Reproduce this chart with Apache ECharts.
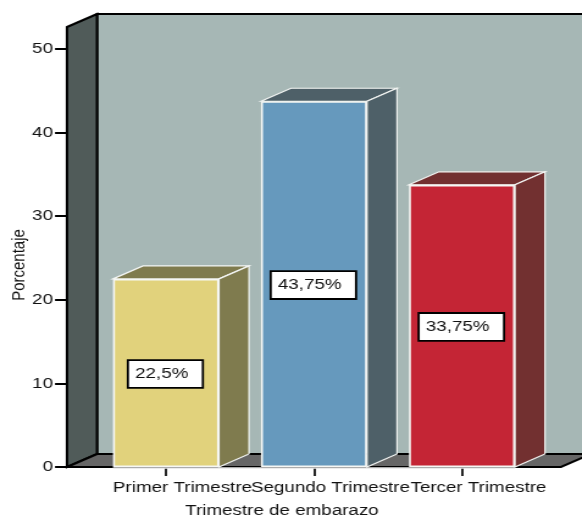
<!DOCTYPE html>
<html>
<head>
<meta charset="utf-8">
<style>
  html, body { margin: 0; padding: 0; background: #fff; overflow: hidden; }
  /* Text on this chart is set wide: the whole drawing is stretched along x. */
  #chart { width: 477px; height: 516px; transform: scaleX(1.22); transform-origin: 0 0; }
</style>
<script src="https://cdn.jsdelivr.net/npm/echarts@6/dist/echarts.min.js"></script>
</head>
<body>
<div id="chart"></div>
<script>
const categories = ['Primer Trimestre', 'Segundo Trimestre', 'Tercer Trimestre'];
const percentages = [22.5, 43.75, 33.75];
const valueLabels = ['22,5%', '43,75%', '33,75%'];
const frontColors = ['#E1D27C', '#6699BD', '#C42535'];
const shadeColors = ['#7F7B4E', '#4E6068', '#723030'];
const yTicks = [0, 10, 20, 30, 40, 50];

const SX = 1.22;               // horizontal stretch of the page
const X = v => v / SX;         // screen px along x -> chart px
const yMax = 52.63;
const depthX = X(30), depthY = -13;
const roomPad = X(25);         // room overhang either side of the category band
const barWidth = X(106);
const textColor = '#111';

const chart = echarts.init(document.getElementById('chart'));

// Walls and floor of the 3D box, placed from the grid and value scale
function renderRoom(params, api) {
  const cs = params.coordSys;
  const l = cs.x - roomPad, r = cs.x + cs.width + roomPad;
  const y0 = api.coord([0, 0])[1], yT = api.coord([0, yMax])[1];
  const line = { stroke: '#000', lineWidth: 2, lineJoin: 'miter' };
  const poly = (points, fill) => ({
    type: 'polygon', shape: { points },
    style: Object.assign({ fill }, line)
  });
  const firstLeft = api.coord([0, 0])[0] - barWidth / 2;
  const lastRight = api.coord([categories.length - 1, 0])[0] + barWidth / 2;
  return {
    type: 'group',
    children: [
      poly([[l + depthX, yT + depthY], [r + depthX, yT + depthY], [r + depthX, y0 + depthY], [l + depthX, y0 + depthY]], '#A6B7B5'),
      poly([[l, yT], [l + depthX, yT + depthY], [l + depthX, y0 + depthY], [l, y0]], '#505B59'),
      poly([[l, y0], [r, y0], [r + depthX, y0 + depthY], [l + depthX, y0 + depthY]], '#666666'),
      {
        type: 'line',
        shape: { x1: firstLeft, y1: y0 + 1, x2: lastRight, y2: y0 + 1 },
        style: { stroke: '#E6E6E6', lineWidth: 1.5 }
      }
    ]
  };
}

// Top and side faces of each column
function renderFaces(params, api) {
  const i = api.value(0);
  const top = api.coord([i, api.value(1)]);
  const base = api.coord([i, 0]);
  const a = top[0] - barWidth / 2, b = top[0] + barWidth / 2;
  const edge = { stroke: '#F4F6F4', lineWidth: 1.2, lineJoin: 'miter' };
  const face = (points) => ({
    type: 'polygon', shape: { points },
    style: Object.assign({ fill: shadeColors[i] }, edge)
  });
  return {
    type: 'group',
    children: [
      face([[a, top[1]], [a + depthX, top[1] + depthY], [b + depthX, top[1] + depthY], [b, top[1]]]),
      face([[b, top[1]], [b + depthX, top[1] + depthY], [b + depthX, base[1] + depthY], [b, base[1]]])
    ]
  };
}

chart.setOption({
  animation: false,
  grid: { left: X(92), right: X(46), top: 27, bottom: 49, outerBoundsMode: 'none' },
  xAxis: {
    type: 'category',
    data: categories,
    axisLine: { show: false },
    axisTick: { show: true, alignWithLabel: true, length: 9, lineStyle: { color: '#000', width: 1.7 } },
    axisLabel: { interval: 0, hideOverlap: false, color: textColor, fontFamily: 'Liberation Sans', fontSize: 15.4, margin: 13, padding: [0, 0, 0, X(33)] },
    name: 'Trimestre de embarazo',
    nameLocation: 'middle',
    nameGap: 36,
    nameMoveOverlap: false,
    nameTextStyle: { color: textColor, fontFamily: 'Liberation Sans', fontSize: 15.4, padding: [0, X(64), 0, 0] }
  },
  yAxis: {
    type: 'value',
    min: 0,
    max: yMax,
    offset: roomPad,
    splitLine: { show: false },
    axisLine: { show: false },
    axisTick: { show: true, customValues: yTicks, length: X(12), lineStyle: { color: '#000', width: 2 } },
    axisLabel: { customValues: yTicks, color: textColor, fontFamily: 'Liberation Sans', fontSize: 15.4, margin: X(14) },
    name: 'Porcentaje',
    nameLocation: 'middle',
    nameGap: 32,
    nameMoveOverlap: false,
    nameTextStyle: { color: textColor, fontFamily: 'Liberation Sans', fontSize: 15, padding: [0, 36, 0, 0] }
  },
  series: [
    {
      type: 'custom',
      z: 1,
      silent: true,
      clip: false,
      renderItem: renderRoom,
      data: [[0, 0]],
      encode: { x: 0, y: 1 }
    },
    {
      type: 'custom',
      z: 2,
      silent: true,
      clip: false,
      renderItem: renderFaces,
      data: percentages.map((v, i) => [i, v]),
      encode: { x: 0, y: 1 }
    },
    {
      type: 'bar',
      z: 3,
      barWidth: barWidth,
      data: percentages.map((v, i) => ({
        value: v,
        itemStyle: { color: frontColors[i], borderColor: '#F6F7F4', borderWidth: 1.6 }
      })),
      label: {
        show: true,
        position: 'inside',
        offset: [-0.5, 1],
        formatter: p => valueLabels[p.dataIndex],
        color: '#111',
        fontFamily: 'Liberation Sans',
        fontSize: 15.4,
        backgroundColor: '#fff',
        borderColor: '#000',
        borderWidth: 1.8,
        padding: [5.5, 11, 5.5, 5]
      }
    }
  ]
});
</script>
</body>
</html>
